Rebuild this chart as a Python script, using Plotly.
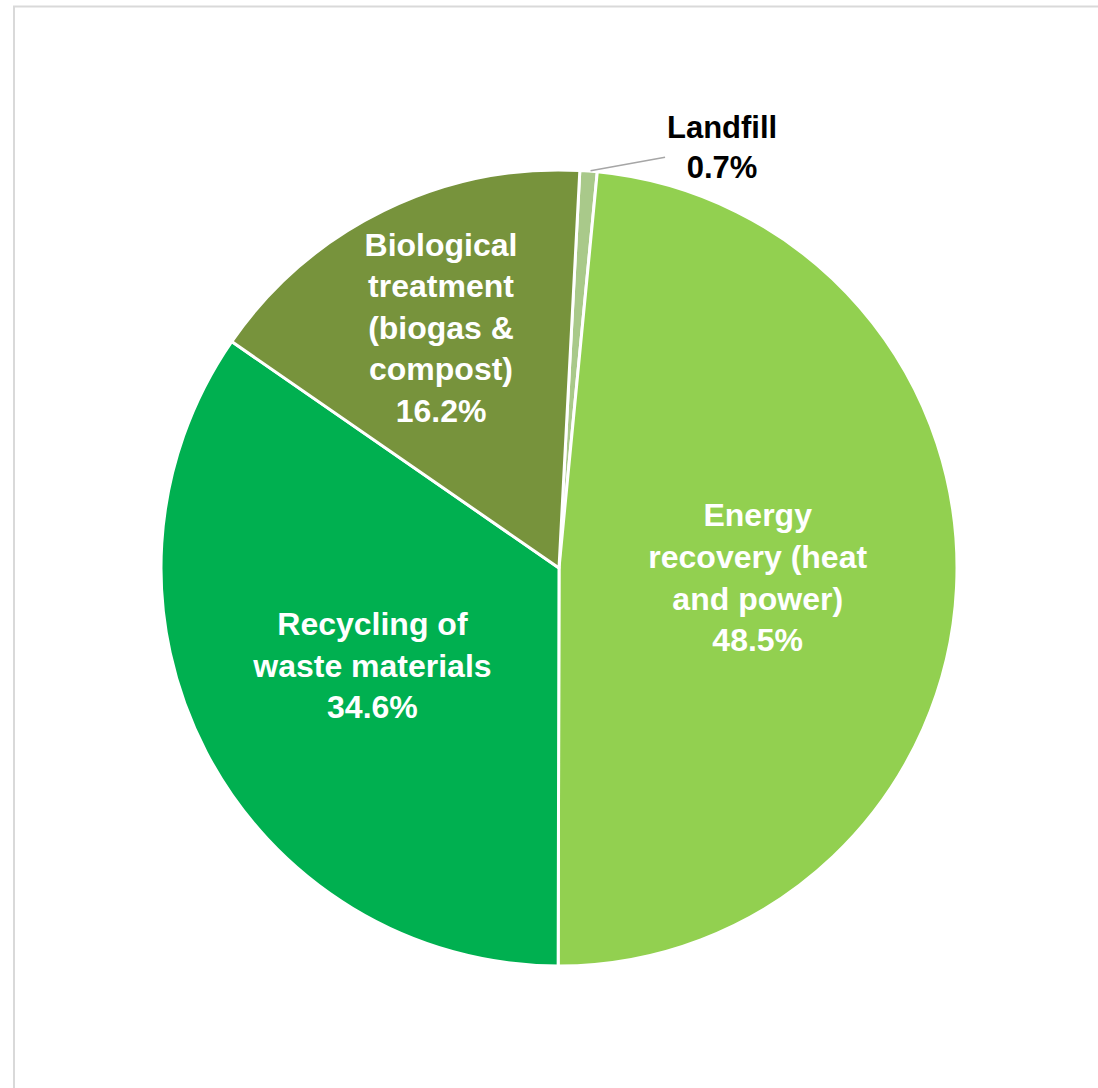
import math
import plotly.graph_objects as go

categories = ["Landfill", "Energy recovery (heat and power)", "Recycling of waste materials",
              "Biological treatment (biogas & compost)"]
label_lines = ["Landfill", "Energy<br>recovery (heat<br>and power)", "Recycling of<br>waste materials",
               "Biological<br>treatment<br>(biogas &<br>compost)"]
shares = [0.7, 48.5, 34.6, 16.2]
colors = ["#A9C98A", "#92D050", "#00B050", "#77933C"]

texts = [f"{l}<br>{v:.1f}%" for l, v in zip(label_lines, shares)]
texts_in = [""] + texts[1:]

W, H = 1098, 1088
cx, cy, r = 559, 568, 398
rotation = 3
FONT = "Liberation Sans, Arial, sans-serif"

fig = go.Figure(go.Pie(
    labels=categories,
    values=shares,
    text=texts_in,
    textinfo="text",
    sort=False,
    direction="clockwise",
    rotation=rotation,
    marker=dict(colors=colors, line=dict(color="white", width=3)),
    textposition=["none", "inside", "inside", "inside"],
    insidetextorientation="horizontal",
    insidetextfont=dict(family=FONT, size=32, color="white", weight="bold"),
    domain=dict(x=[(cx - r) / W, (cx + r) / W], y=[(H - cy - r) / H, (H - cy + r) / H]),
    showlegend=False,
    hoverinfo="label+percent",
))

# leader-line annotation for the small Landfill slice (point from its mid-angle)
mid = math.radians(rotation + shares[0] * 3.6 / 2)
px = (cx + r * math.sin(mid)) / W
py = (H - (cy - r * math.cos(mid))) / H

fig.update_layout(
    width=W, height=H,
    margin=dict(l=0, r=0, t=0, b=0),
    paper_bgcolor="white",
    plot_bgcolor="white",
    font=dict(family=FONT),
    uniformtext=dict(minsize=32, mode="show"),
    annotations=[dict(
        x=px, y=py, xref="paper", yref="paper",
        text=texts[0], showarrow=True, arrowhead=0, arrowwidth=1.5, arrowcolor="#A6A6A6",
        ax=133, ay=-24, standoff=2,
        font=dict(family=FONT, size=31, color="black", weight="bold"),
        align="center",
    )],
    shapes=[dict(type="rect", xref="paper", yref="paper",
                 x0=14 / W, x1=1.2, y0=-0.2, y1=(H - 6.5) / H,
                 line=dict(color="#D9D9D9", width=2), fillcolor="rgba(0,0,0,0)", layer="below")],
)

fig.write_html("out.html")
